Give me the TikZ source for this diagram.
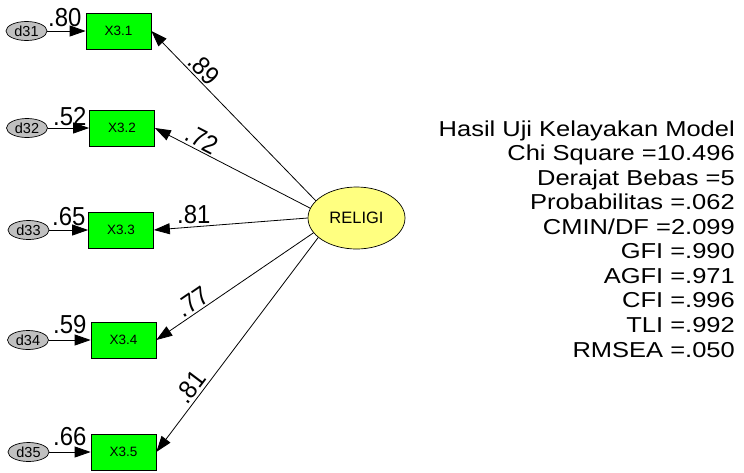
\documentclass[tikz,border=0pt]{standalone}
\usepackage{fontspec}
\setmainfont{Liberation Sans}
\newfontfamily\statfont[FakeStretch=1.18]{Liberation Sans}
\newfontfamily\lblfont[FakeStretch=0.92]{Liberation Sans}
\usetikzlibrary{shapes.geometric,arrows.meta}
\definecolor{boxgreen}{RGB}{0,255,0}
\definecolor{errgray}{RGB}{192,192,192}
\definecolor{latyellow}{RGB}{255,255,128}
\begin{document}
\begin{tikzpicture}[x=1pt,y=-1pt,
 obs/.style={draw, line width=0.7pt, fill=boxgreen, minimum width=65pt, minimum height=36pt, inner sep=0, font=\fontsize{13.5}{16}\selectfont},
 err/.style={ellipse, draw, line width=0.7pt, fill=errgray, minimum width=41pt, minimum height=19pt, inner sep=0, font=\fontsize{14.5}{16}\selectfont},
 lat/.style={ellipse, draw, line width=0.7pt, fill=latyellow, minimum width=97pt, minimum height=62pt, inner sep=0, font=\fontsize{16.5}{18}\selectfont},
 arr/.style={-{Triangle[length=16pt,width=11pt]}, line width=0.8pt},
 coef/.style={font=\lblfont\fontsize{26}{30}\selectfont, inner sep=0},
 load/.style={coef, sloped, above, inner sep=2pt, pos=0.73},
 stat/.style={font=\statfont\fontsize{21.6}{24}\selectfont, anchor=base east, inner sep=0}]

\useasboundingbox (0,0) rectangle (744,472);

% observed variables
\node[obs] (X31) at (118.5,31) {X3.1};
\node[obs] (X32) at (122,128) {X3.2};
\node[obs] (X33) at (121,230) {X3.3};
\node[obs] (X34) at (123.5,340) {X3.4};
\node[obs] (X35) at (123.5,452) {X3.5};

% error terms
\node[err] (d31) at (26.5,31) {d31};
\node[err] (d32) at (27,128) {d32};
\node[err] (d33) at (28.5,230) {d33};
\node[err] (d34) at (28,340) {d34};
\node[err] (d35) at (28.5,452) {d35};

% latent
\node[lat] (R) at (356.5,218) {RELIGI};

% error arrows
\draw[arr] (d31) -- (X31);
\draw[arr] (d32) -- (X32);
\draw[arr] (d33) -- (X33);
\draw[arr] (d34) -- (X34);
\draw[arr] (d35) -- (X35);

% squared multiple correlations
\node[coef, anchor=base west] (r31) at (48,26.5) {.80};
\node[coef, anchor=base west] (r32) at (53,125) {.52};
\node[coef, anchor=base west] (r33) at (52,225) {.65};
\node[coef, anchor=base west] (r34) at (53,333) {.59};
\node[coef, anchor=base west] (r35) at (53,445) {.66};

% loadings
\draw[arr] (R.157.5) -- node[load] (l31) {.89} (X31.east);
\draw[arr] (R.168) -- node[load] (l32) {.72} (X32.east);
\draw[arr] (R.180) -- node[coef, above, inner sep=3pt, pos=0.74] (l33) {.81} (X33.east);
\draw[arr] (R.199) -- node[load] (l34) {.77} (X34.east);
\draw[arr] (R.207.5) -- node[load] (l35) {.81} (X35.east);

% fit statistics
\foreach \t [count=\i from 0] in {Hasil Uji Kelayakan Model, Chi Square =10.496, Derajat Bebas =5, Probabilitas =.062, CMIN/DF =2.099, GFI =.990, AGFI =.971, CFI =.996, TLI =.992, RMSEA =.050}
  \node[stat] (s\i) at (735,{136+24.56*\i}) {\t};
\end{tikzpicture}
\end{document}
